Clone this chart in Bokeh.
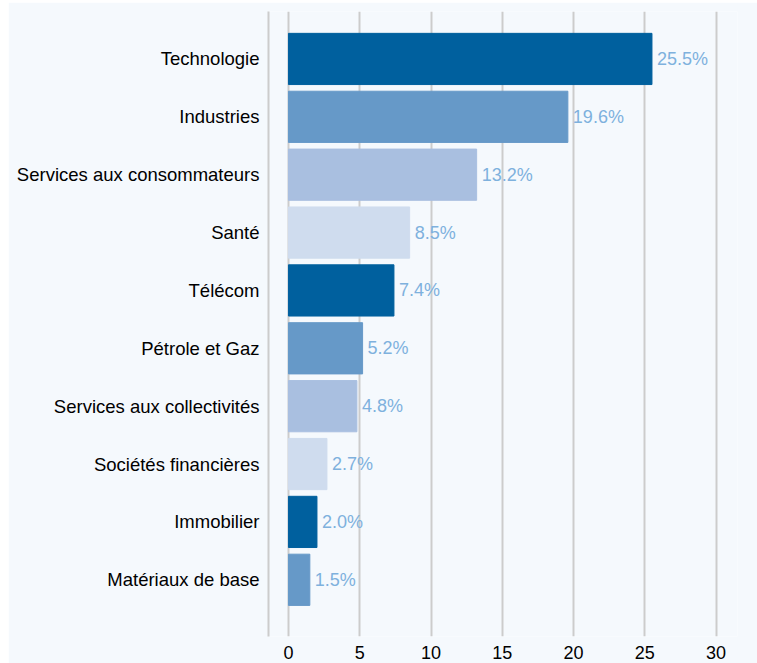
from bokeh.plotting import figure
from bokeh.models import ColumnDataSource, Range1d, FixedTicker, Spacer
from bokeh.layouts import column, row
from bokeh.core.properties import value
from bokeh.embed import file_html
from bokeh.resources import INLINE

categories = ["Technologie", "Industries", "Services aux consommateurs", "Santé",
              "Télécom", "Pétrole et Gaz", "Services aux collectivités",
              "Sociétés financières", "Immobilier", "Matériaux de base"]
weights = [25.5, 19.6, 13.2, 8.5, 7.4, 5.2, 4.8, 2.7, 2.0, 1.5]
x_ticks = [0, 5, 10, 15, 20, 25, 30]

palette = ["#00609e", "#6699c8", "#a9bfe0", "#cfdcee"]

pos = list(range(len(categories)))
src = ColumnDataSource(dict(
    y=pos,
    w=weights,
    lab=[f"{v:.1f}%" for v in weights],
    color=[palette[i % 4] for i in pos],
))

W, H = 749, 661
p = figure(width=W, height=H, output_backend="svg", toolbar_location=None,
           x_range=Range1d(-1.4, 31.5), y_range=Range1d(9.98, -0.82),
           min_border_left=260, min_border_right=20, min_border_top=9,
           min_border_bottom=27,
           background_fill_color="#f5f9fd", border_fill_color="#f5f9fd",
           outline_line_color=None)

p.hbar(y="y", right="w", left=0, height=0.885, color="color", source=src)
p.text(x="w", y="y", text="lab", source=src, x_offset=5,
       text_baseline="middle", text_align="left",
       text_font=value("Liberation Sans"), text_font_size="18px",
       text_color="#7eb1dd")

# grid
p.xgrid.ticker = FixedTicker(ticks=x_ticks)
p.xgrid.grid_line_color = "#cccccc"
p.xgrid.grid_line_width = 2
p.ygrid.grid_line_color = None

# x axis
p.xaxis.ticker = FixedTicker(ticks=x_ticks)
p.xaxis.axis_line_color = None
p.xaxis.major_tick_line_color = None
p.xaxis.minor_tick_line_color = None
p.xaxis.major_label_text_font = "Liberation Sans"
p.xaxis.major_label_text_font_size = "18px"
p.xaxis.major_label_text_color = "#000000"
p.xaxis.major_label_standoff = 3

# y axis
p.yaxis.ticker = FixedTicker(ticks=pos)
p.yaxis.major_label_overrides = {i: c for i, c in zip(pos, categories)}
p.yaxis.axis_line_color = "#cccccc"
p.yaxis.axis_line_width = 2
p.yaxis.major_tick_line_color = None
p.yaxis.minor_tick_line_color = None
p.yaxis.major_label_text_font = "Liberation Sans"
p.yaxis.major_label_text_font_size = "18.5px"
p.yaxis.major_label_text_color = "#000000"
p.yaxis.major_label_standoff = 3

layout = column(Spacer(height=2), row(Spacer(width=8), p))

open("out.html", "w").write(file_html(layout, INLINE))
